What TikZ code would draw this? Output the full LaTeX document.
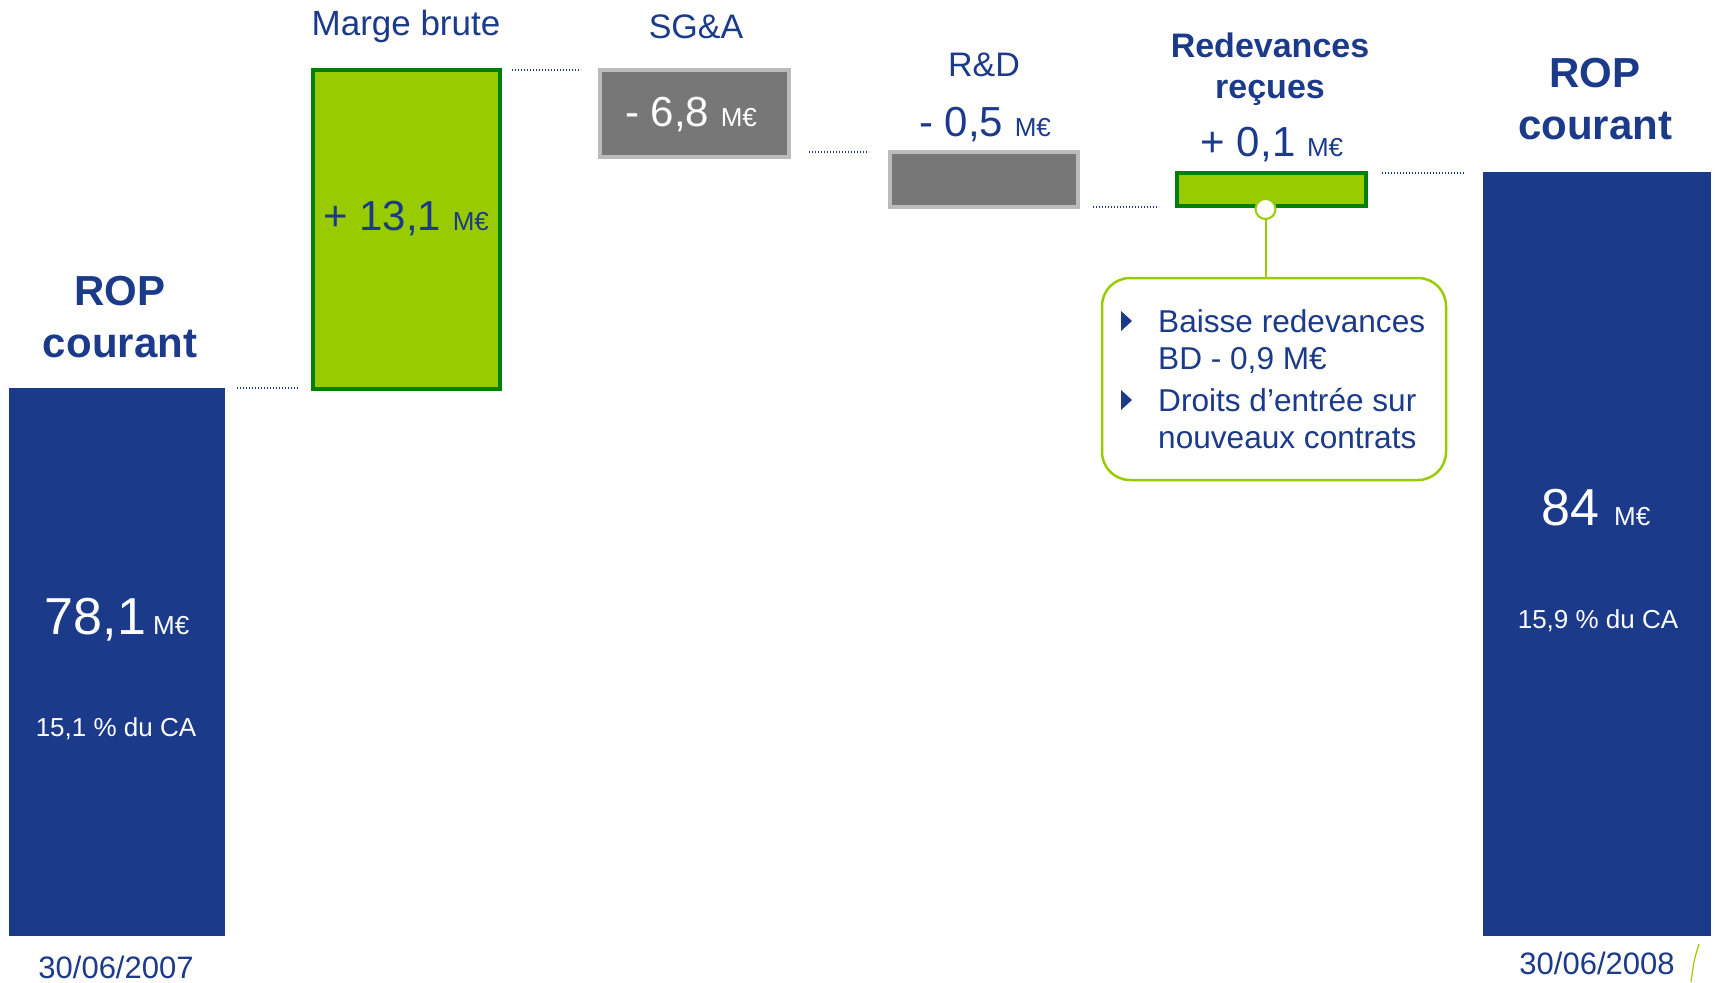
\documentclass[tikz,border=0pt]{standalone}
\usepackage{fontspec}
\setmainfont{Liberation Sans}
\usepackage{tikz}
\usetikzlibrary{positioning, calc}

\definecolor{ropblue}{HTML}{1B3A8A}
\definecolor{gainfill}{HTML}{99CC00}
\definecolor{gainedge}{HTML}{008000}
\definecolor{lossfill}{HTML}{777777}
\definecolor{lossedge}{HTML}{BBBBBB}

\newcommand{\fsz}[2]{\fontsize{#1pt}{#2pt}\selectfont}
\newcommand{\meur}{{\fsz{26}{30}M€}}

\begin{document}
\begin{tikzpicture}[x=1pt, y=-1pt,
  bar/.style={rectangle, inner sep=0pt, outer sep=0pt},
  totalbar/.style={bar, fill=ropblue},
  gainbar/.style={bar, fill=gainfill, draw=gainedge, line width=4pt},
  lossbar/.style={bar, fill=lossfill, draw=lossedge, line width=4pt},
  guide/.style={ropblue, line width=2pt, dash pattern=on 1.4pt off 1.6pt},
  lbl/.style={anchor=base, inner sep=0pt, text=ropblue},
  title/.style={lbl, font=\fsz{34}{41}},
  bigtitle/.style={lbl, align=center, font=\bfseries\fsz{42}{52}},
  val/.style={lbl, font=\fsz{42}{50}},
  total/.style={lbl, text=white, font=\fsz{52}{60}},
  share/.style={lbl, text=white, font=\fsz{26}{30}},
  date/.style={lbl, font=\fsz{31}{36}}]
\useasboundingbox (0,0) rectangle (1715,982);

% --- Bars ---
\node[totalbar, minimum width=216pt, minimum height=548pt] (rop07) at (116.6,662) {};
\node[gainbar, minimum width=187pt, minimum height=319pt] (mb) at (406.5,229.5) {};
\node[lossbar, minimum width=189pt, minimum height=87pt] (sga) at (694.5,113.5) {};
\node[lossbar, minimum width=188pt, minimum height=55pt] (rd) at (984,179.5) {};
\node[gainbar, minimum width=189pt, minimum height=33pt] (red) at (1271.5,189.5) {};
\node[totalbar, minimum width=228pt, minimum height=764pt] (rop08) at (1597,554) {};

% --- Level guides (dotted) ---
\draw[guide] ([xshift=12pt]rop07.north east) -- ([xshift=-15pt]mb.west |- rop07.north);
\draw[guide] ([xshift=12pt]mb.north east) -- ([xshift=-19pt]sga.west |- mb.north);
\draw[guide] ([xshift=20pt]sga.east |- rd.north) -- ([xshift=-21pt]rd.north west);
\draw[guide] ([xshift=15pt]rd.south east) -- ([xshift=-18pt]red.west |- rd.south);
\draw[guide] ([xshift=16pt]red.north east) -- ([xshift=-19pt]rop08.west |- red.north);

% --- Titles (base = last line) ---
\node[bigtitle] (t07) at (120,357) {ROP\\courant};
\node[title, font=\fsz{35}{41}] (tmb) at (406,36) {Marge brute};
\node[title] (tsga) at (696,38) {SG\&A};
\node[title] (trd) at (984,76) {R\&D};
\node[title, align=center, font=\bfseries\fsz{34}{41}] (tred) at (1270,98) {Redevances\\reçues};
\node[bigtitle] (t08) at (1595,139) {ROP\\courant};

% --- Values ---
\node[val] (vmb) at (406,230) {+ 13,1 \meur};
\node[val, text=white] (vsga) at (691,126) {- 6,8 \meur};
\node[val] (vrd) at (985,136) {- 0,5 \meur};
\node[val] (vred) at (1272,156) {+ 0,1 \meur};
\node[total] (v07) at (117,634) {78,1{\fsz{26}{30} M€}};
\node[share] (s07) at (116,736) {15,1 \% du CA};
\node[total] (v08) at (1596,525) {84 \meur};
\node[share] (s08) at (1598,628) {15,9 \% du CA};

% --- Dates ---
\node[date] (d07) at (116,978) {30/06/2007};
\node[date] (d08) at (1597,974) {30/06/2008};

% --- Callout on royalties ---
\node[bar, draw=gainfill, fill=white, line width=2.5pt, rounded corners=28pt,
  minimum width=344pt, minimum height=202pt] (note) at (1274,379) {};
\node[circle, draw=gainfill, fill=white, line width=2pt, minimum size=20pt, inner sep=0pt] (dot) at (1265.5,209) {};
\draw[gainfill, line width=2pt] (dot.south) -- (dot.south |- note.north);
\fill[ropblue] (1121,311) -- (1132,321) -- (1121,331) -- cycle;
\fill[ropblue] (1121,390) -- (1132,400) -- (1121,410) -- cycle;
\node[lbl, anchor=base west, align=left, font=\fsz{31.6}{37}] (notetxt) at (1158,448)
  {Baisse redevances\\BD - 0,9 M€\\[5pt]Droits d’entrée sur\\nouveaux contrats};

% --- Corner mark ---
\draw[gainfill, line width=1.2pt] (1699,944) .. controls (1694,960) .. (1691,982);
\end{tikzpicture}
\end{document}
